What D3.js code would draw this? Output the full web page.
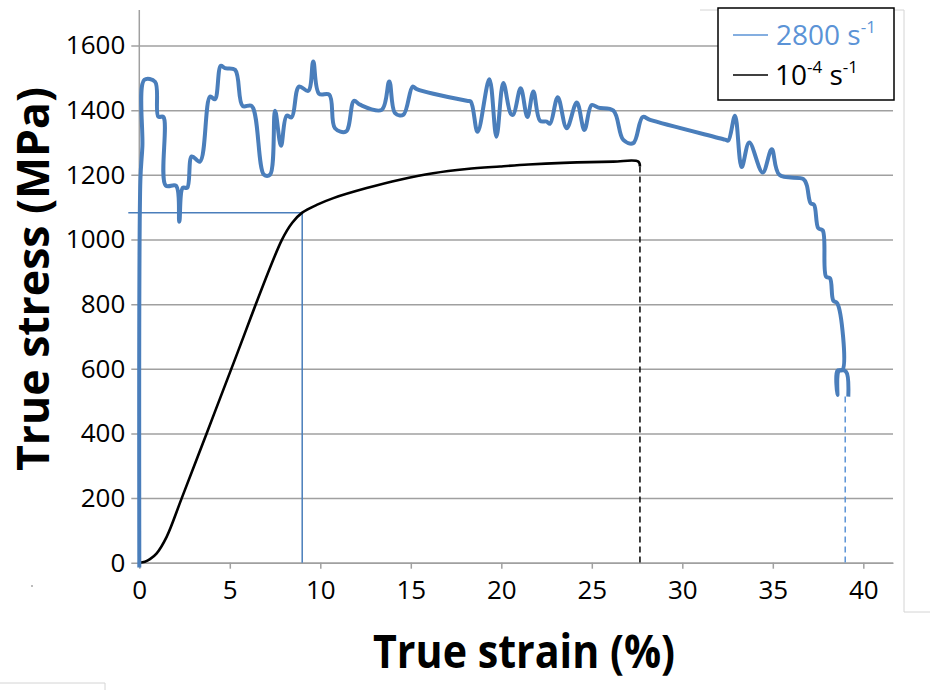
<!DOCTYPE html>
<html>
<head>
<meta charset="utf-8">
<script src="https://cdn.jsdelivr.net/npm/d3@7"></script>
<style>
  body { margin: 0; background: #fff; }
  svg { display: block; }
</style>
</head>
<body>
<div id="chart"></div>
<script>
// values (strain in %, stress in MPa)
var fastStrain = [0, 0, 0.06, 0.17, 0.28, 0.87, 1.05, 1.33, 1.46, 2.03, 2.21, 2.40, 2.65, 2.90, 3.35, 3.91, 4.18, 4.50, 4.73, 5.29,
    5.71, 6.21, 6.89, 7.22, 7.50, 7.83, 8.14, 8.42, 8.82, 9.34, 9.61, 9.93, 10.50, 10.81, 11.42, 11.86, 12.19, 13.39, 13.81, 14.13,
    14.59, 15.10, 15.33, 18.09, 18.31, 18.69, 19.34, 19.73, 20.11, 20.52, 20.66, 21.07, 21.44, 21.77, 22.14, 22.51, 22.69, 23.12, 23.61, 24.17,
    24.59, 24.99, 25.36, 26.19, 26.74, 27.29, 27.81, 28.22, 32.36, 32.54, 32.91, 33.28, 33.70, 34.44, 34.94, 35.36, 36.69, 36.87, 37.09, 37.28,
    37.51, 37.76, 37.94, 38.16, 38.34, 38.56, 38.85, 38.57, 38.57, 38.66, 39.04, 39.17];
var fastStress = [-15, 0, 1184, 1288, 1494, 1488, 1380, 1379, 1167, 1166, 1055, 1160, 1160, 1257, 1241, 1442, 1434, 1537, 1530, 1525,
    1413, 1413, 1200, 1200, 1398, 1290, 1383, 1378, 1473, 1460, 1551, 1451, 1448, 1344, 1334, 1429, 1417, 1401, 1489, 1391,
    1386, 1473, 1465, 1429, 1427, 1333, 1496, 1318, 1484, 1389, 1386, 1468, 1379, 1458, 1367, 1365, 1358, 1440, 1344, 1424,
    1339, 1416, 1408, 1399, 1308, 1298, 1379, 1370, 1309, 1306, 1383, 1224, 1300, 1207, 1279, 1200, 1187, 1169, 1112, 1107,
    1035, 1028, 885, 880, 811, 803, 596, 594, 519, 594, 591, 514];

var slowStrain = [0, 0.31, 0.59, 0.96, 1.51, 2.34, 3.72, 5.10, 7.87, 8.45, 9.0, 9.8, 10.72, 12.56, 14.40, 16.23, 18.09, 19.93, 21.5, 23.43, 26.19, 27.57, 27.66];
var slowStress = [0, 3, 11, 29, 80, 199, 400, 602, 998, 1052, 1083, 1107, 1128, 1159, 1185, 1205, 1218, 1226, 1232, 1237, 1241, 1241, 1226];

var yieldStrain = 9.0, yieldStress = 1083;
var slowEnd = 27.66, slowEndStress = 1226;
var fastEnd = 39.0, fastEndStress = 514;

var xTicks = [0, 5, 10, 15, 20, 25, 30, 35, 40];
var yTicks = [0, 200, 400, 600, 800, 1000, 1200, 1400, 1600];

var width = 930, height = 690;
var blue = "#4a7ebb", lightBlue = "#5b93d6", grid = "#a0a0a0";
var font = "'Open Sans', sans-serif";

var svg = d3.select("#chart").append("svg")
    .attr("width", width)
    .attr("height", height)
    .style("font-family", font);

var x = d3.scaleLinear().domain([0, 41.64]).range([139.3, 893]);
var y = d3.scaleLinear().domain([0, 1710]).range([562.7, 10]);

// stray frame bits of the original figure
svg.append("path")
    .attr("d", "M700,10H904V612H930 M0,683H105V690")
    .attr("fill", "none").attr("stroke", "#d4d4d4").attr("stroke-width", 1);
svg.append("circle").attr("cx", 32).attr("cy", 586).attr("r", 0.8).attr("fill", "#666");

// horizontal grid + y axis
var yAxis = svg.append("g")
    .attr("transform", "translate(" + x(0) + ",0)")
    .call(d3.axisLeft(y).tickValues(yTicks).tickFormat(d3.format("d"))
        .tickSize(-(893 - x(0))).tickSizeOuter(0).tickPadding(14));
yAxis.selectAll(".tick line").attr("stroke", grid).attr("stroke-width", 1.5).attr("x1", -8);
yAxis.select(".domain").remove();
yAxis.selectAll("text").attr("fill", "#000")
    .style("font-size", "26px").style("font-family", font);
svg.append("line")
    .attr("x1", x(0)).attr("x2", x(0)).attr("y1", y(1710)).attr("y2", y(0))
    .attr("stroke", grid).attr("stroke-width", 1.5);

// x axis
var xAxis = svg.append("g")
    .attr("transform", "translate(0," + y(0) + ")")
    .call(d3.axisBottom(x).tickValues(xTicks).tickSize(6).tickSizeOuter(0).tickPadding(12));
xAxis.select(".domain").attr("stroke", grid).attr("stroke-width", 1.5);
xAxis.selectAll(".tick line").attr("stroke", grid).attr("stroke-width", 1.5);
xAxis.selectAll("text").attr("fill", "#000")
    .style("font-size", "26px").style("font-family", font);

// legend box covers the gridline
svg.append("rect")
    .attr("x", 718).attr("y", 8).attr("width", 176).attr("height", 92)
    .attr("fill", "#fff").attr("stroke", "#000").attr("stroke-width", 1.5);

// guide lines
svg.append("path")
    .attr("d", "M" + (x(0) - 11) + "," + y(yieldStress) + "H" + x(yieldStrain) + "V" + y(0))
    .attr("fill", "none").attr("stroke", blue).attr("stroke-width", 1.5);
svg.append("line")
    .attr("x1", x(slowEnd)).attr("x2", x(slowEnd)).attr("y1", y(slowEndStress)).attr("y2", y(0))
    .attr("stroke", "#000").attr("stroke-width", 1.5).attr("stroke-dasharray", "6,4");
svg.append("line")
    .attr("x1", x(fastEnd)).attr("x2", x(fastEnd)).attr("y1", y(fastEndStress)).attr("y2", y(0))
    .attr("stroke", lightBlue).attr("stroke-width", 1.5).attr("stroke-dasharray", "6,4");

var line = d3.line()
    .x(d => x(d[0]))
    .y(d => y(d[1]))
    .curve(d3.curveCatmullRom.alpha(0.5));

svg.append("path")
    .datum(d3.zip(slowStrain, slowStress))
    .attr("d", line)
    .attr("fill", "none").attr("stroke", "#000").attr("stroke-width", 2.6);

svg.append("path")
    .datum(d3.zip(fastStrain, fastStress))
    .attr("d", line)
    .attr("fill", "none").attr("stroke", blue).attr("stroke-width", 4)
    .attr("stroke-linejoin", "round");

// legend
svg.append("line").attr("x1", 733).attr("x2", 768).attr("y1", 35).attr("y2", 35)
    .attr("stroke", lightBlue).attr("stroke-width", 1.5);
svg.append("line").attr("x1", 733).attr("x2", 768).attr("y1", 75).attr("y2", 75)
    .attr("stroke", "#000").attr("stroke-width", 1.5);

var t1 = svg.append("text").attr("x", 776).attr("y", 45).attr("fill", lightBlue).style("font-size", "28px");
t1.append("tspan").text("2800 s");
t1.append("tspan").attr("dy", -12).style("font-size", "17px").text("-1");

var t2 = svg.append("text").attr("x", 775).attr("y", 85).attr("fill", "#000").style("font-size", "28px");
t2.append("tspan").text("10");
t2.append("tspan").attr("dy", -12).style("font-size", "17px").text("-4");
t2.append("tspan").attr("dy", 12).text(" s");
t2.append("tspan").attr("dy", -12).style("font-size", "17px").text("-1");

// axis titles
svg.append("text")
    .attr("x", 524).attr("y", 668)
    .attr("text-anchor", "middle")
    .attr("textLength", 302).attr("lengthAdjust", "spacingAndGlyphs")
    .style("font-size", "46px").style("font-weight", "bold")
    .text("True strain (%)");

svg.append("text")
    .attr("transform", "translate(49,279) rotate(-90)")
    .attr("text-anchor", "middle")
    .attr("textLength", 384).attr("lengthAdjust", "spacingAndGlyphs")
    .style("font-size", "44px").style("font-weight", "bold")
    .text("True stress (MPa)");
</script>
</body>
</html>
